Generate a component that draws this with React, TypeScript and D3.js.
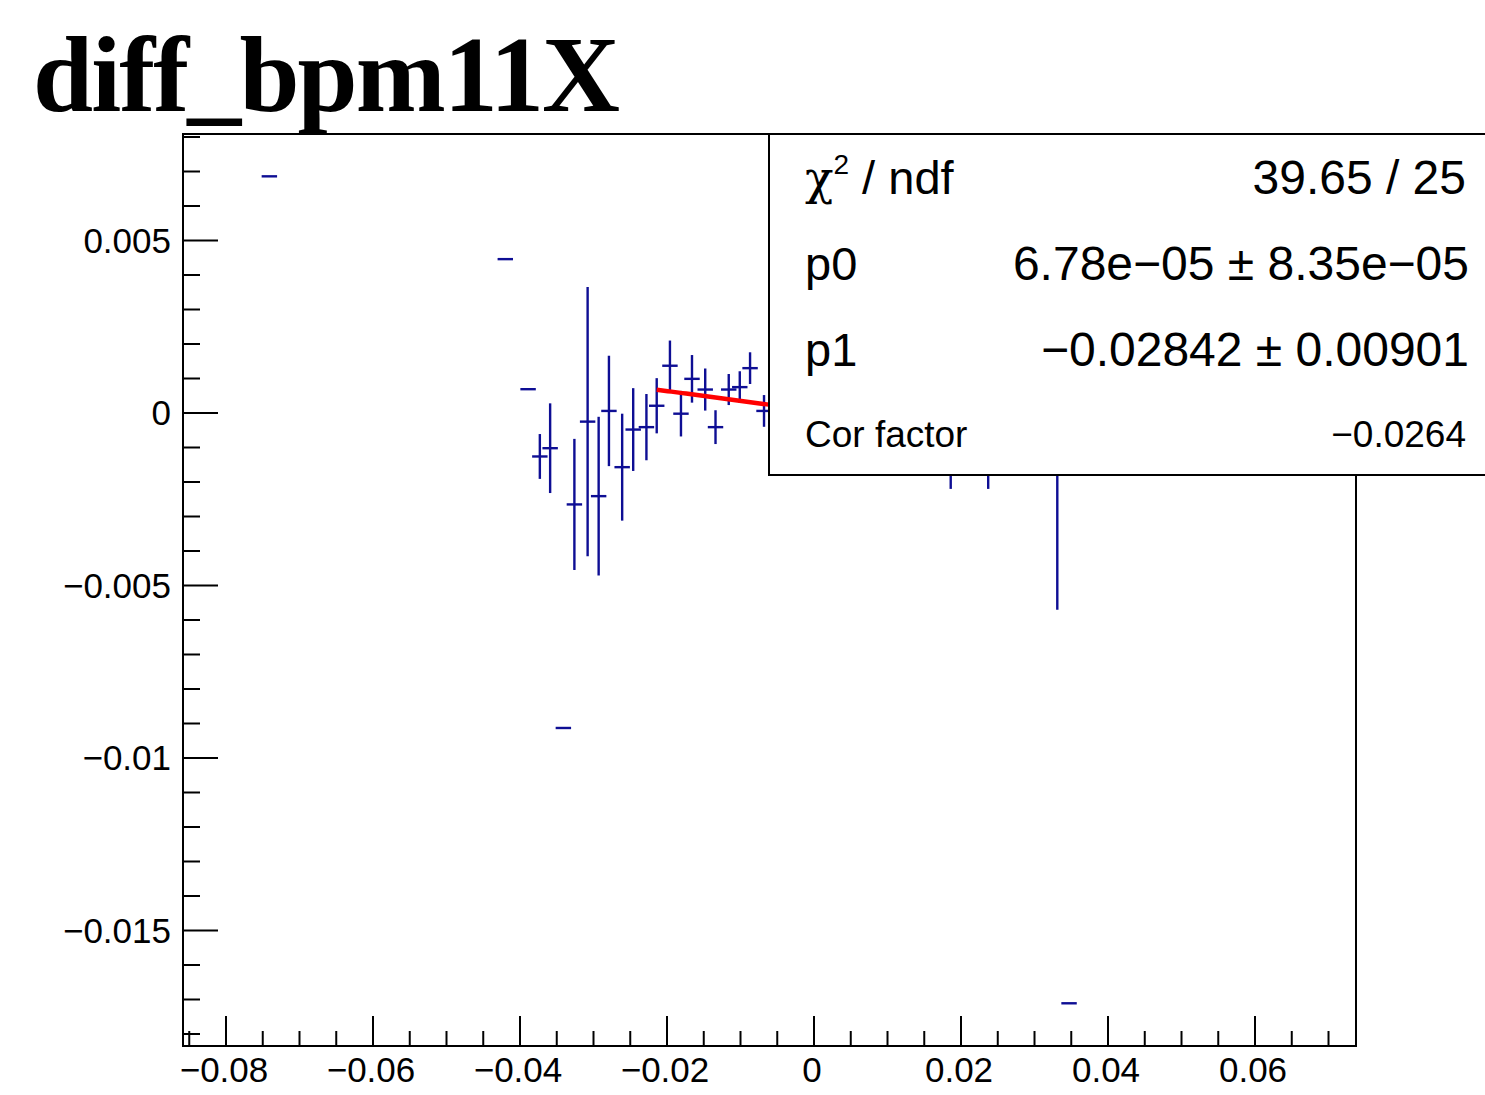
import * as d3 from 'd3';

// axis ranges
const xRange = [-0.08585, 0.07374];
const yRange = [-0.018348, 0.008087];

const xMajorTicks = [-0.08, -0.06, -0.04, -0.02, 0, 0.02, 0.04, 0.06];
const xTickLabels = ['\u22120.08', '\u22120.06', '\u22120.04', '\u22120.02', '0', '0.02', '0.04', '0.06'];
const yMajorTicks = [0.005, 0, -0.005, -0.01, -0.015];
const yTickLabels = ['0.005', '0', '\u22120.005', '\u22120.01', '\u22120.015'];

// profile points (x, y, y error)
const pointX = [
  -0.0741, -0.042, -0.0389, -0.0373, -0.0359, -0.0341, -0.0326, -0.0308, -0.0293, -0.0279,
  -0.0261, -0.0246, -0.0228, -0.0214, -0.0196, -0.0181, -0.0166, -0.0148, -0.0134, -0.0116,
  -0.0101, -0.0087, -0.0068, 0.0186, 0.0237, 0.0331, 0.0347,
];
const pointY = [
  0.00686, 0.00446, 0.00069, -0.00126, -0.00102, -0.00913, -0.00265, -0.00025, -0.00241, 0.00006,
  -0.00157, -0.00048, -0.00041, 0.00021, 0.00137, -0.00002, 0.00099, 0.00068, -0.00041, 0.00068,
  0.00075, 0.0013, 0.00006, -0.0005, -0.0006, -0.0005, -0.01711,
];
const pointErrY = [
  0, 0, 0, 0.00065, 0.0013, 0, 0.0019, 0.0039, 0.0023, 0.0016,
  0.00155, 0.0012, 0.00096, 0.0008, 0.00073, 0.00066, 0.00069, 0.00061, 0.00049, 0.00045,
  0.00046, 0.00046, 0.00046, 0.0017, 0.0016, 0.0052, 0,
];
const pointErrX = 0.00105;

// pol1 fit
const p0 = 6.78e-5;
const p1 = -0.02842;
const fitRange = [-0.0214, 0.0186];

const statLabels = ['p0', 'p1'];
const statValues = ['6.78e\u221205 \u00b1 8.35e\u221205', '\u22120.02842 \u00b1 0.00901'];
const chi2Value = '39.65 / 25';
const corFactor = '\u22120.0264';

const W = 1485;
const H = 1095;
const frame = { left: 183, right: 1356, top: 134, bottom: 1046 };
const sans = '"Liberation Sans", Arial, Helvetica, sans-serif';
const blue = '#0e0e94';

export default function App() {
  const x = d3.scaleLinear().domain(xRange).range([frame.left, frame.right]);
  const y = d3.scaleLinear().domain(yRange).range([frame.bottom, frame.top]);

  const xMinor = d3.range(-0.085, 0.0701, 0.005).filter(v => !xMajorTicks.some(m => Math.abs(m - v) < 1e-9));
  const yMinor = d3.range(-0.018, 0.0081, 0.001).filter(v => !yMajorTicks.some(m => Math.abs(m - v) < 1e-9));

  const fitLine = d3.line<number>()
    .x(v => x(v))
    .y(v => y(p0 + p1 * v));

  const box = { left: 769, top: 134, bottom: 475, right: 1500 };
  const rowBase = [194, 280, 366, 447];

  return (
    <div style={{ position: 'absolute', left: 0, top: 0 }}>
      <svg width={W} height={H} style={{ display: 'block', background: '#fff' }}>
        <text
          x={33}
          y={111}
          fontFamily='"Liberation Serif", "Times New Roman", serif'
          fontWeight="bold"
          fontSize={108}
          textLength={587}
          lengthAdjust="spacing"
        >
          diff_bpm11X
        </text>

        {/* data points */}
        <g stroke={blue} strokeWidth={2.4}>
          {pointX.map((px, i) => (
            <g key={i}>
              <line x1={x(px - pointErrX)} x2={x(px + pointErrX)} y1={y(pointY[i])} y2={y(pointY[i])} />
              {pointErrY[i] > 0 && (
                <line x1={x(px)} x2={x(px)} y1={y(pointY[i] + pointErrY[i])} y2={y(pointY[i] - pointErrY[i])} />
              )}
            </g>
          ))}
        </g>

        <path d={fitLine(d3.range(fitRange[0], fitRange[1] + 1e-9, 0.0005)) ?? ''} fill="none" stroke="#ff0000" strokeWidth={4.5} />

        {/* frame */}
        <rect
          x={frame.left}
          y={frame.top}
          width={frame.right - frame.left}
          height={frame.bottom - frame.top}
          fill="none"
          stroke="#000"
          strokeWidth={2}
        />

        {/* axis ticks */}
        <g stroke="#000" strokeWidth={2}>
          {xMajorTicks.map(v => (
            <line key={'xM' + v} x1={x(v)} x2={x(v)} y1={frame.bottom} y2={frame.bottom - 30} />
          ))}
          {xMinor.map(v => (
            <line key={'xm' + v} x1={x(v)} x2={x(v)} y1={frame.bottom} y2={frame.bottom - 15} />
          ))}
          {yMajorTicks.map(v => (
            <line key={'yM' + v} x1={frame.left} x2={frame.left + 35} y1={y(v)} y2={y(v)} />
          ))}
          {yMinor.map(v => (
            <line key={'ym' + v} x1={frame.left} x2={frame.left + 17} y1={y(v)} y2={y(v)} />
          ))}
        </g>
        <g fontFamily={sans} fontSize={35} fill="#000">
          {xMajorTicks.map((v, i) => (
            <text key={'xl' + v} x={x(v) - 2} y={1082} textAnchor="middle">{xTickLabels[i]}</text>
          ))}
          {yMajorTicks.map((v, i) => (
            <text key={'yl' + v} x={171} y={y(v) + 12.5} textAnchor="end">{yTickLabels[i]}</text>
          ))}
        </g>

        {/* stats box */}
        <rect
          x={box.left}
          y={box.top}
          width={box.right - box.left}
          height={box.bottom - box.top}
          fill="#fff"
          stroke="#000"
          strokeWidth={2}
        />
        <g fontFamily={sans} fill="#000">
          <text x={805} y={rowBase[0]} fontSize={47}>
            <tspan fontFamily='"DejaVu Serif", serif'>{'\u03c7'}</tspan>
            <tspan fontSize={28} dy={-20}>2</tspan>
            <tspan dy={20}>{' / ndf'}</tspan>
          </text>
          <text x={1466} y={rowBase[0]} fontSize={48} textAnchor="end">{chi2Value}</text>
          {statLabels.map((lab, i) => (
            <g key={lab}>
              <text x={805} y={rowBase[i + 1]} fontSize={47}>{lab}</text>
              <text x={1469} y={rowBase[i + 1]} fontSize={48} textAnchor="end">{statValues[i]}</text>
            </g>
          ))}
          <text x={805} y={rowBase[3]} fontSize={37}>Cor factor</text>
          <text x={1466} y={rowBase[3]} fontSize={37} textAnchor="end">{corFactor}</text>
        </g>
      </svg>
    </div>
  );
}
